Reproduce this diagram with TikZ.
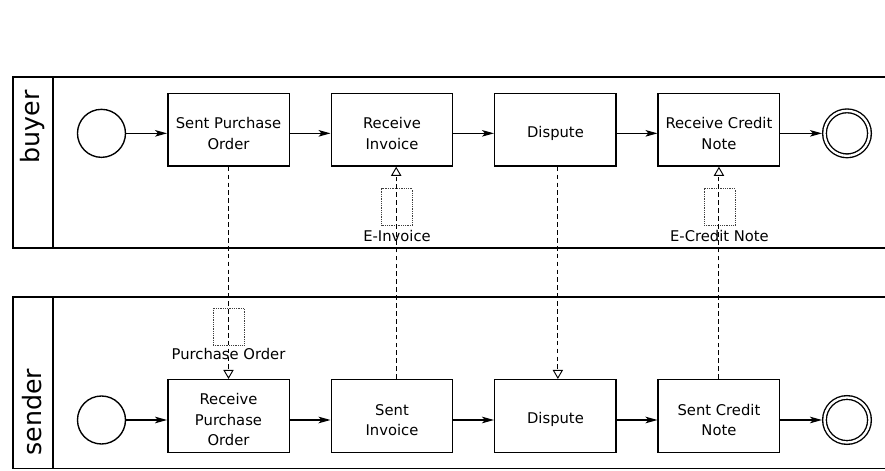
\documentclass[tikz,border=0pt]{standalone}
\usepackage{fontspec}
\setmainfont{DejaVu Sans}
\usepackage{tikz}
\usetikzlibrary{positioning, arrows.meta}
\newcommand{\tup}{\rule{0pt}{18pt}}
\tikzset{task/.style={rectangle, draw=black, fill=white, line width=1.4pt, minimum width=4.05cm, minimum height=2.42cm, align=center, font=\fontsize{14}{19.5}\selectfont},
    startev/.style={circle, draw=black, line width=1.3pt, minimum size=1.6cm, inner sep=0pt},
    endev/.style={circle, draw=black, line width=1.3pt, double, double distance=2.2pt, minimum size=1.5cm, inner sep=0pt, outer sep=2.4pt},
    dataobj/.style={rectangle, draw=black!75, densely dotted, line width=0.7pt, minimum width=1.03cm, minimum height=1.23cm, inner sep=0pt},
    datalabel/.style={inner sep=0pt, font=\fontsize{14}{17}\selectfont},
    lanelabel/.style={rotate=90, inner sep=0pt, font=\fontsize{24}{28}\selectfont},
    pool/.style={line width=1pt},
    seq/.style={line width=1.1pt, -{Stealth[length=0.4cm, width=0.22cm, inset=0.1cm]}},
    msg/.style={line width=0.9pt, dash pattern=on 4.5pt off 3pt, -{Triangle[open, length=0.3cm, width=0.34cm, line width=0.9pt]}}}

\begin{document}
\begin{tikzpicture}[node distance=1.35cm]
                \useasboundingbox (0,0) rectangle (29.5,15.667);

                % pools
                \draw[pool] (29.5,13.1)--(0.433,13.1)--(0.433,7.4)--(29.5,7.4);
                \draw[pool] (1.767,13.1)--(1.767,7.4);
                \draw[pool] (29.5,5.767)--(0.433,5.767)--(0.433,0.05)--(29.5,0.05);
                \draw[pool] (1.767,5.767)--(1.767,0.05);
                \node[lanelabel] (buyer) at (1.07,11.43) {buyer};
                \node[lanelabel] (sender) at (1.07,1.93) {sender};

                % buyer
                \node[startev] (sb) at (3.383,11.222) {};
                \node[task] (t1) at (7.617,11.343) {\tup Sent Purchase\\Order};
                \node[task, right=of t1] (t2) {\tup Receive\\Invoice};
                \node[task, right=of t2] (t3) {\tup Dispute};
                \node[task, right=of t3] (t4) {\tup Receive Credit\\Note};
                \node[endev] (eb) at (28.233,11.222) {};

                \draw[seq] (sb) -- (sb -| t1.west);
                \draw[seq] (t1.east |- sb) -- (t2.west |- sb);
                \draw[seq] (t2.east |- sb) -- (t3.west |- sb);
                \draw[seq] (t3.east |- sb) -- (t4.west |- sb);
                \draw[seq] (t4.east |- sb) -- (eb);

                % sender
                \node[startev] (ss) at (3.383,1.667) {};
                \node[task] (r1) at (7.617,1.8) {\tup Receive\\Purchase\\Order};
                \node[task, right=of r1] (r2) {\tup Sent\\Invoice};
                \node[task, right=of r2] (r3) {\tup Dispute};
                \node[task, right=of r3] (r4) {\tup Sent Credit\\Note};
                \node[endev] (es) at (28.233,1.667) {};

                \draw[seq] (ss) -- (ss -| r1.west);
                \draw[seq] (r1.east |- ss) -- (r2.west |- ss);
                \draw[seq] (r2.east |- ss) -- (r3.west |- ss);
                \draw[seq] (r3.east |- ss) -- (r4.west |- ss);
                \draw[seq] (r4.east |- ss) -- (es);

                % messages
                \node[dataobj] (d1) at (7.617,4.783) {};
                \node[datalabel, below=0.1cm of d1] (d1l) {Purchase Order};
                \node[dataobj] (d2) at (13.233,8.757) {};
                \node[datalabel, below=0.12cm of d2] (d2l) {E-Invoice};
                \node[dataobj] (d3) at (23.983,8.757) {};
                \node[datalabel, below=0.12cm of d3] (d3l) {E-Credit Note};

                \draw[msg] (t1.south) -- (r1.north);
                \draw[msg] ([xshift=0.14cm]r2.north) -- ([xshift=0.14cm]t2.south);
                \draw[msg] ([xshift=0.08cm]t3.south) -- ([xshift=0.08cm]r3.north);
                \draw[msg] (r4.north) -- (t4.south);
\end{tikzpicture}
\end{document}
